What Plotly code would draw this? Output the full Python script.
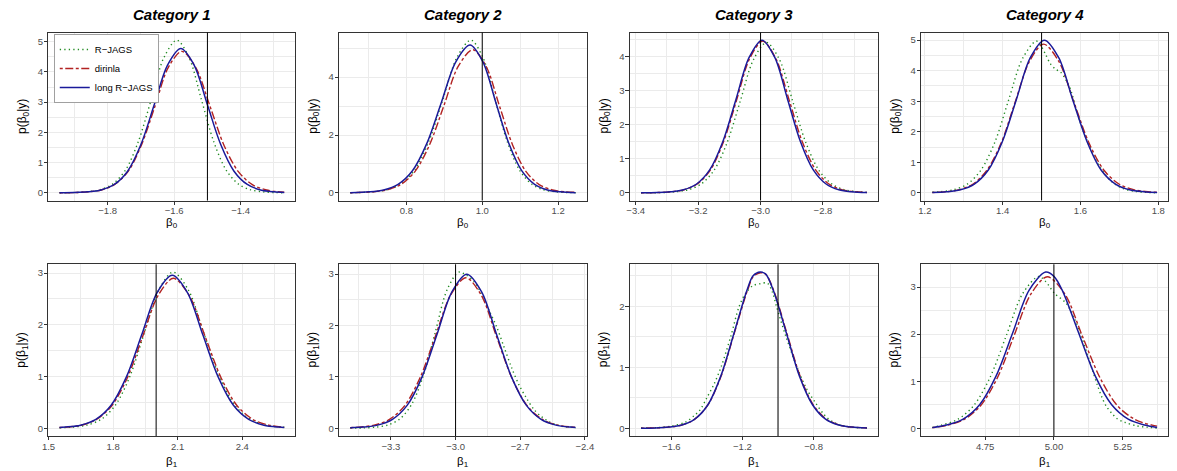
import plotly.graph_objects as go

# ---------------- data ----------------
categories = ["Category 1", "Category 2", "Category 3", "Category 4"]
series_names = ["R\u2212JAGS", "dirinla", "long R\u2212JAGS"]
true_values = [-1.5, 1.0, -3.0, 1.5, 2.0, -3.0, -1.0, 5.0]

# Panel 1: beta0, category 1
p1_x_rjags = [-1.945, -1.900, -1.862, -1.823, -1.785, -1.746, -1.708, -1.669, -1.631, -1.592, -1.555, -1.518, -1.481, -1.444, -1.407, -1.370, -1.333, -1.296, -1.269]
p1_y_rjags = [0.003, 0.010, 0.035, 0.101, 0.293, 0.758, 1.692, 3.081, 4.469, 5.050, 4.469, 3.081, 1.692, 0.758, 0.293, 0.101, 0.035, 0.010, 0.003]
p1_x_dirinla = [-1.945, -1.901, -1.861, -1.820, -1.780, -1.739, -1.699, -1.658, -1.618, -1.577, -1.535, -1.492, -1.450, -1.407, -1.365, -1.322, -1.269]
p1_y_dirinla = [0.003, 0.009, 0.033, 0.094, 0.271, 0.702, 1.568, 2.855, 4.142, 4.680, 4.142, 2.855, 1.568, 0.702, 0.271, 0.094, 0.020]
p1_x_long = [-1.945, -1.900, -1.860, -1.820, -1.780, -1.740, -1.700, -1.660, -1.620, -1.580, -1.540, -1.500, -1.460, -1.420, -1.380, -1.340, -1.300, -1.269]
p1_y_long = [0.003, 0.010, 0.033, 0.095, 0.277, 0.716, 1.598, 2.910, 4.221, 4.770, 4.221, 2.910, 1.598, 0.716, 0.277, 0.095, 0.033, 0.012]

# Panel 2: beta0, category 2
p2_x_rjags = [0.652, 0.674, 0.711, 0.748, 0.785, 0.822, 0.859, 0.896, 0.933, 0.970, 1.002, 1.034, 1.066, 1.098, 1.130, 1.162, 1.194, 1.226, 1.246]
p2_y_rjags = [0.005, 0.011, 0.037, 0.106, 0.306, 0.792, 1.769, 3.221, 4.673, 5.280, 4.673, 3.221, 1.769, 0.792, 0.306, 0.106, 0.037, 0.011, 0.005]
p2_x_dirinla = [0.652, 0.671, 0.709, 0.747, 0.785, 0.823, 0.861, 0.899, 0.937, 0.975, 1.010, 1.045, 1.080, 1.115, 1.150, 1.185, 1.220, 1.246]
p2_y_dirinla = [0.005, 0.010, 0.035, 0.099, 0.287, 0.743, 1.658, 3.020, 4.381, 4.950, 4.381, 3.020, 1.658, 0.743, 0.287, 0.099, 0.035, 0.018]
p2_x_long = [0.652, 0.702, 0.740, 0.778, 0.816, 0.854, 0.892, 0.930, 0.968, 1.002, 1.036, 1.070, 1.104, 1.138, 1.172, 1.206, 1.246]
p2_y_long = [0.008, 0.036, 0.102, 0.296, 0.767, 1.712, 3.117, 4.522, 5.110, 4.522, 3.117, 1.712, 0.767, 0.296, 0.102, 0.036, 0.008]

# Panel 3: beta0, category 3
p3_x_rjags = [-3.383, -3.317, -3.275, -3.233, -3.191, -3.149, -3.107, -3.065, -3.023, -2.981, -2.939, -2.897, -2.855, -2.813, -2.771, -2.729, -2.687, -2.659]
p3_y_rjags = [0.001, 0.009, 0.031, 0.088, 0.255, 0.660, 1.474, 2.684, 3.894, 4.400, 3.894, 2.684, 1.474, 0.660, 0.255, 0.088, 0.031, 0.013]
p3_x_dirinla = [-3.383, -3.329, -3.287, -3.245, -3.203, -3.161, -3.119, -3.077, -3.035, -2.993, -2.951, -2.908, -2.866, -2.823, -2.781, -2.738, -2.696, -2.659]
p3_y_dirinla = [0.003, 0.009, 0.031, 0.089, 0.258, 0.666, 1.487, 2.708, 3.929, 4.440, 3.929, 2.708, 1.487, 0.666, 0.258, 0.089, 0.031, 0.011]
p3_x_long = [-3.383, -3.331, -3.289, -3.247, -3.205, -3.163, -3.121, -3.079, -3.037, -2.995, -2.954, -2.913, -2.872, -2.831, -2.790, -2.749, -2.708, -2.659]
p3_y_long = [0.003, 0.009, 0.031, 0.089, 0.259, 0.671, 1.497, 2.727, 3.956, 4.470, 3.956, 2.727, 1.497, 0.671, 0.259, 0.089, 0.031, 0.007]

# Panel 4: beta0, category 4
p4_x_rjags = [1.219, 1.238, 1.273, 1.309, 1.344, 1.380, 1.415, 1.451, 1.486, 1.498, 1.510, 1.523, 1.536, 1.549, 1.561, 1.574, 1.598, 1.620, 1.650, 1.680, 1.710, 1.740, 1.770, 1.797]
p4_y_rjags = [0.020, 0.035, 0.099, 0.288, 0.746, 1.665, 3.032, 4.398, 4.970, 4.820, 4.540, 4.220, 4.050, 3.950, 3.730, 3.400, 2.350, 1.620, 0.850, 0.370, 0.140, 0.050, 0.015, 0.004]
p4_x_dirinla = [1.219, 1.250, 1.286, 1.323, 1.359, 1.396, 1.432, 1.469, 1.505, 1.544, 1.583, 1.622, 1.661, 1.700, 1.739, 1.778, 1.797]
p4_y_dirinla = [0.011, 0.034, 0.097, 0.282, 0.731, 1.631, 2.971, 4.310, 4.870, 4.310, 2.971, 1.631, 0.731, 0.282, 0.097, 0.034, 0.020]
p4_x_long = [1.219, 1.255, 1.291, 1.327, 1.363, 1.399, 1.435, 1.471, 1.507, 1.544, 1.580, 1.617, 1.653, 1.690, 1.726, 1.763, 1.797]
p4_y_long = [0.010, 0.035, 0.100, 0.290, 0.750, 1.675, 3.050, 4.425, 5.000, 4.425, 3.050, 1.675, 0.750, 0.290, 0.100, 0.035, 0.010]

# Panel 5: beta1, category 1
p5_x_rjags = [1.551, 1.613, 1.679, 1.746, 1.812, 1.879, 1.945, 2.012, 2.078, 2.150, 2.221, 2.293, 2.364, 2.436, 2.507, 2.579, 2.595]
p5_y_rjags = [0.007, 0.021, 0.060, 0.175, 0.453, 1.012, 1.842, 2.673, 3.020, 2.673, 1.842, 1.012, 0.453, 0.175, 0.060, 0.021, 0.018]
p5_x_dirinla = [1.551, 1.580, 1.651, 1.723, 1.794, 1.866, 1.937, 2.009, 2.080, 2.154, 2.228, 2.302, 2.376, 2.450, 2.524, 2.595]
p5_y_dirinla = [0.014, 0.020, 0.058, 0.168, 0.435, 0.972, 1.769, 2.567, 2.900, 2.567, 1.769, 0.972, 0.435, 0.168, 0.058, 0.021]
p5_x_long = [1.551, 1.578, 1.649, 1.720, 1.791, 1.862, 1.933, 2.004, 2.075, 2.146, 2.217, 2.288, 2.359, 2.430, 2.501, 2.572, 2.595]
p5_y_long = [0.012, 0.021, 0.059, 0.172, 0.444, 0.992, 1.806, 2.620, 2.960, 2.620, 1.806, 0.992, 0.444, 0.172, 0.059, 0.021, 0.014]

# Panel 6: beta1, category 2
p6_x_rjags = [-3.489, -3.425, -3.370, -3.315, -3.260, -3.205, -3.150, -3.095, -3.040, -2.985, -2.950, -2.915, -2.880, -2.845, -2.810, -2.775, -2.740, -2.705, -2.670, -2.635, -2.600, -2.565, -2.530, -2.495, -2.443]
p6_y_rjags = [0.002, 0.006, 0.021, 0.061, 0.176, 0.456, 1.018, 1.854, 2.690, 3.040, 2.980, 2.860, 2.620, 2.300, 1.980, 1.580, 1.180, 0.840, 0.580, 0.360, 0.220, 0.125, 0.065, 0.030, 0.010]
p6_x_dirinla = [-3.489, -3.449, -3.378, -3.307, -3.236, -3.165, -3.094, -3.023, -2.952, -2.881, -2.810, -2.739, -2.668, -2.597, -2.526, -2.443]
p6_y_dirinla = [0.010, 0.021, 0.059, 0.170, 0.440, 0.982, 1.787, 2.593, 2.930, 2.593, 1.787, 0.982, 0.440, 0.170, 0.059, 0.016]
p6_x_long = [-3.489, -3.431, -3.362, -3.293, -3.224, -3.155, -3.086, -3.017, -2.948, -2.879, -2.810, -2.741, -2.672, -2.603, -2.534, -2.465, -2.443]
p6_y_long = [0.007, 0.021, 0.060, 0.174, 0.450, 1.005, 1.830, 2.655, 3.000, 2.655, 1.830, 1.005, 0.450, 0.174, 0.060, 0.021, 0.015]

# Panel 7: beta1, category 3
p7_x_rjags = [-1.770, -1.680, -1.600, -1.520, -1.470, -1.438, -1.400, -1.360, -1.318, -1.266, -1.218, -1.180, -1.140, -1.100, -1.060, -1.030, -1.009, -0.955, -0.893, -0.840, -0.790, -0.740, -0.690, -0.640, -0.580, -0.500]
p7_y_rjags = [0.002, 0.010, 0.035, 0.100, 0.210, 0.300, 0.500, 0.720, 1.020, 1.500, 2.000, 2.220, 2.340, 2.370, 2.380, 2.220, 2.000, 1.500, 1.000, 0.650, 0.420, 0.220, 0.100, 0.045, 0.015, 0.003]
p7_x_dirinla = [-1.770, -1.690, -1.616, -1.542, -1.468, -1.394, -1.320, -1.246, -1.172, -1.138, -1.098, -1.068, -1.024, -0.950, -0.876, -0.802, -0.728, -0.654, -0.580, -0.500]
p7_y_dirinla = [0.001, 0.005, 0.018, 0.051, 0.148, 0.383, 0.854, 1.556, 2.257, 2.490, 2.550, 2.520, 2.257, 1.556, 0.854, 0.383, 0.148, 0.051, 0.018, 0.005]
p7_x_long = [-1.770, -1.688, -1.615, -1.541, -1.468, -1.394, -1.321, -1.247, -1.174, -1.140, -1.100, -1.070, -1.027, -0.953, -0.880, -0.806, -0.733, -0.659, -0.586, -0.500]
p7_y_long = [0.001, 0.005, 0.018, 0.051, 0.148, 0.384, 0.858, 1.562, 2.266, 2.500, 2.560, 2.530, 2.266, 1.562, 0.858, 0.384, 0.148, 0.051, 0.018, 0.004]

# Panel 8: beta1, category 4
p8_x_rjags = [4.558, 4.591, 4.650, 4.709, 4.768, 4.827, 4.886, 4.945, 4.970, 5.002, 5.044, 5.074, 5.100, 5.123, 5.141, 5.159, 5.175, 5.190, 5.210, 5.230, 5.260, 5.300, 5.340, 5.375]
p8_y_rjags = [0.015, 0.065, 0.187, 0.485, 1.082, 1.970, 2.859, 3.230, 3.120, 2.870, 2.660, 2.340, 1.950, 1.550, 1.220, 0.900, 0.650, 0.470, 0.320, 0.200, 0.120, 0.050, 0.020, 0.005]
p8_x_dirinla = [4.558, 4.613, 4.674, 4.734, 4.795, 4.855, 4.916, 4.976, 5.040, 5.103, 5.167, 5.230, 5.294, 5.357, 5.375]
p8_y_dirinla = [0.012, 0.064, 0.187, 0.483, 1.079, 1.964, 2.850, 3.220, 2.850, 1.964, 1.079, 0.483, 0.187, 0.064, 0.045]
p8_x_long = [4.558, 4.610, 4.670, 4.730, 4.790, 4.850, 4.910, 4.970, 5.000, 5.030, 5.090, 5.150, 5.210, 5.270, 5.330, 5.375]
p8_y_long = [0.012, 0.066, 0.193, 0.498, 1.112, 2.025, 2.938, 3.320, 3.230, 2.938, 2.025, 1.112, 0.498, 0.193, 0.066, 0.015]

# tick values per panel
x_ticks = [[-1.8, -1.6, -1.4], [0.8, 1.0, 1.2], [-3.4, -3.2, -3.0, -2.8], [1.2, 1.4, 1.6, 1.8],
           [1.5, 1.8, 2.1, 2.4], [-3.3, -3.0, -2.7, -2.4], [-1.6, -1.2, -0.8], [4.75, 5.00, 5.25]]
x_minor = [[-1.9, -1.7, -1.5, -1.3], [0.7, 0.9, 1.1], [-3.3, -3.1, -2.9, -2.7], [1.3, 1.5, 1.7],
           [1.65, 1.95, 2.25, 2.55], [-3.45, -3.15, -2.85, -2.55], [-1.8, -1.4, -1.0, -0.6], [4.625, 4.875, 5.125, 5.375]]
x_decimals = [1, 1, 1, 1, 1, 1, 1, 2]
y_ticks = [[0, 1, 2, 3, 4, 5], [0, 2, 4], [0, 1, 2, 3, 4], [0, 1, 2, 3, 4, 5],
           [0, 1, 2, 3], [0, 1, 2, 3], [0, 1, 2], [0, 1, 2, 3]]
y_minor = [[0.5, 1.5, 2.5, 3.5, 4.5], [1, 3, 5], [0.5, 1.5, 2.5, 3.5, 4.5], [0.5, 1.5, 2.5, 3.5, 4.5],
           [0.5, 1.5, 2.5], [0.5, 1.5, 2.5], [0.5, 1.5, 2.5], [0.5, 1.5, 2.5]]

# ---------------- build figure ----------------
W, H = 1177, 471
col_px = [(42.7, 292.7), (336.7, 587.3), (630.7, 882.0), (925.3, 1175.3)]
row_px = [(32.5, 200.5), (264.3, 436.0)]

styles = [
    dict(color="#228B22", dash="1.3px,3.2px", width=1.4),
    dict(color="#B22222", dash="3px,2.5px,8px,2.5px", width=1.4),
    dict(color="#1A1A9A", dash="solid", width=1.5),
]

panels = [
    (p1_x_rjags, p1_y_rjags, p1_x_dirinla, p1_y_dirinla, p1_x_long, p1_y_long),
    (p2_x_rjags, p2_y_rjags, p2_x_dirinla, p2_y_dirinla, p2_x_long, p2_y_long),
    (p3_x_rjags, p3_y_rjags, p3_x_dirinla, p3_y_dirinla, p3_x_long, p3_y_long),
    (p4_x_rjags, p4_y_rjags, p4_x_dirinla, p4_y_dirinla, p4_x_long, p4_y_long),
    (p5_x_rjags, p5_y_rjags, p5_x_dirinla, p5_y_dirinla, p5_x_long, p5_y_long),
    (p6_x_rjags, p6_y_rjags, p6_x_dirinla, p6_y_dirinla, p6_x_long, p6_y_long),
    (p7_x_rjags, p7_y_rjags, p7_x_dirinla, p7_y_dirinla, p7_x_long, p7_y_long),
    (p8_x_rjags, p8_y_rjags, p8_x_dirinla, p8_y_dirinla, p8_x_long, p8_y_long),
]

FONT = "Liberation Sans, Arial, sans-serif"
fig = go.Figure()
layout = dict(
    width=W, height=H, margin=dict(l=0, r=0, t=0, b=0),
    paper_bgcolor="white", plot_bgcolor="white",
    font=dict(family=FONT, size=10, color="black"),
    showlegend=True,
    legend=dict(x=48.3 / W, y=1 - 34 / H, xanchor="left", yanchor="top",
                bgcolor="white", bordercolor="#A0A0A0", borderwidth=1,
                font=dict(size=9.5, color="black", family=FONT),
                itemwidth=30, tracegroupgap=0),
)
annotations = []


def fmt(v, d):
    s = f"{abs(v):.{d}f}"
    return ("\u2212" + s) if v < 0 else s


def data_range(xs_list, pad=0.05):
    lo = min(min(x) for x in xs_list)
    hi = max(max(x) for x in xs_list)
    span = hi - lo
    return [lo - pad * span, hi + pad * span]


for k, pan in enumerate(panels):
    n = k + 1
    row, col = divmod(k, 4)
    sfx = "" if n == 1 else str(n)
    xs = [pan[0], pan[2], pan[4]]
    ys = [pan[1], pan[3], pan[5]]
    for s in range(3):
        fig.add_trace(go.Scatter(
            x=xs[s], y=ys[s], mode="lines", name=series_names[s],
            line=dict(color=styles[s]["color"], dash=styles[s]["dash"],
                      width=styles[s]["width"], shape="spline", smoothing=0.9),
            xaxis="x" + sfx, yaxis="y" + sfx,
            showlegend=(k == 0), legendgroup=series_names[s], hoverinfo="skip"))
    x0, x1 = col_px[col]
    yt, yb = row_px[row]
    xr = data_range(xs)
    yr = data_range(ys + [[0.0]])
    common = dict(showline=True, mirror=True, linecolor="#333333", linewidth=1,
                  ticks="outside", ticklen=3.3, tickwidth=1, tickcolor="#333333",
                  showgrid=True, gridcolor="#EBEBEB", gridwidth=1, zeroline=False,
                  tickfont=dict(size=9.5, color="#4D4D4D", family=FONT), fixedrange=True)
    layout["xaxis" + sfx] = dict(
        domain=[x0 / W, x1 / W], range=xr, anchor="y" + sfx, ticklabelstandoff=-2,
        tickmode="array", tickvals=x_ticks[k], ticktext=[fmt(v, x_decimals[k]) for v in x_ticks[k]],
        minor=dict(tickvals=x_minor[k], showgrid=True, gridcolor="#EBEBEB", gridwidth=0.5, ticks=""),
        **common)
    layout["yaxis" + sfx] = dict(
        domain=[1 - yb / H, 1 - yt / H], range=yr, anchor="x" + sfx, ticklabelstandoff=-1,
        tickmode="array", tickvals=y_ticks[k], ticktext=[str(v) for v in y_ticks[k]],
        minor=dict(tickvals=y_minor[k], showgrid=True, gridcolor="#EBEBEB", gridwidth=0.5, ticks=""),
        **common)
    fig.add_shape(type="line", xref="x" + sfx, yref=("y" + sfx) + " domain",
                  x0=true_values[k], x1=true_values[k], y0=0, y1=1,
                  line=dict(color="black", width=1))
    b = "0" if row == 0 else "1"
    cx = (x0 + x1) / 2 / W
    xt_y = 222.5 if row == 0 else 462.0
    annotations.append(dict(text=f"\u03b2<sub>{b}</sub>", x=cx, y=1 - xt_y / H, xref="paper", yref="paper",
                            xanchor="center", yanchor="middle", showarrow=False,
                            font=dict(size=11.5, color="black", family=FONT)))
    annotations.append(dict(text=f"p(\u03b2<sub>{b}</sub>|y)", x=(x0 - 26) / W, y=1 - (yt + yb) / 2 / H,
                            xref="paper", yref="paper", xanchor="center", yanchor="middle",
                            textangle=-90, showarrow=False,
                            font=dict(size=12, color="black", family=FONT)))
    if row == 0:
        annotations.append(dict(text=f"<b><i>{categories[col]}</i></b>", x=cx, y=1 - 14.5 / H,
                                xref="paper", yref="paper", xanchor="center", yanchor="middle",
                                showarrow=False, font=dict(size=15, color="black", family=FONT)))

layout["annotations"] = annotations
fig.update_layout(**layout)
fig.write_html("out.html", config={"displayModeBar": False},
               post_script="document.body.style.margin='0px';document.body.style.padding='0px';")
